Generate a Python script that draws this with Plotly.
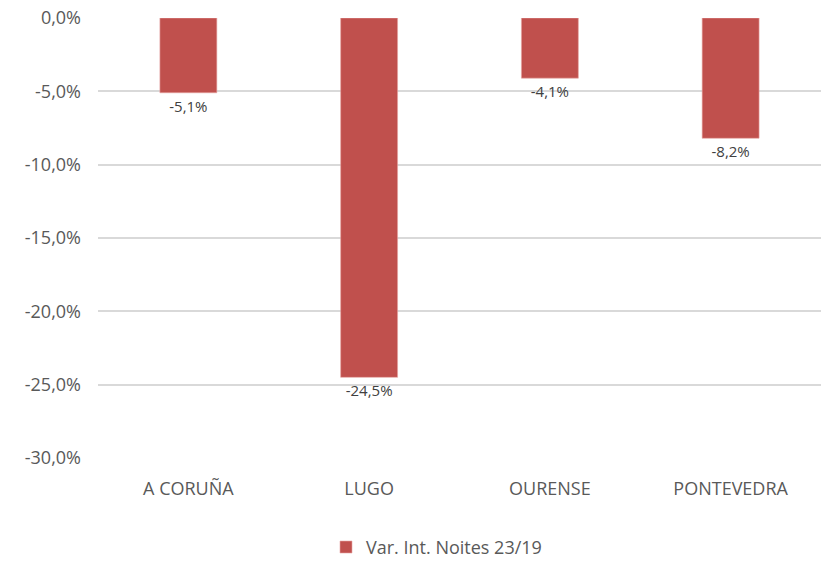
import plotly.graph_objects as go

provincias = ["A CORUÑA", "LUGO", "OURENSE", "PONTEVEDRA"]
variacion = [-5.1, -24.5, -4.1, -8.2]
serie = "Var. Int. Noites 23/19"
eixo_vals = [0, -5, -10, -15, -20, -25, -30]
eixo_text = ["0,0%", "-5,0%", "-10,0%", "-15,0%", "-20,0%", "-25,0%", "-30,0%"]

etiquetas = [f"{v:.1f}%".replace(".", ",") for v in variacion]

texto = "#595959"
fonte = "Open Sans"

fig = go.Figure(
    go.Bar(
        x=provincias,
        y=variacion,
        name=serie,
        marker=dict(color="#C0504D", line=dict(color="#E8A6A4", width=0.6)),
        width=0.315,
        text=etiquetas,
        textposition="outside",
        textfont=dict(family=fonte, size=15, color="#404040"),
        cliponaxis=False,
        showlegend=True,
    )
)

fig.update_layout(
    width=825,
    height=561,
    margin=dict(l=98, r=4, t=18, b=103, autoexpand=False),
    paper_bgcolor="white",
    plot_bgcolor="white",
    bargap=0.5,
    font=dict(family=fonte, color=texto),
    showlegend=True,
    legend=dict(
        orientation="h",
        x=(326 - 98) / 723,
        xanchor="left",
        y=-0.203,
        yanchor="middle",
        font=dict(family=fonte, size=18, color=texto),
        itemwidth=30,
    ),
    xaxis=dict(
        showgrid=False,
        showline=False,
        zeroline=False,
        tickfont=dict(family=fonte, size=18, color=texto),
        ticklabelstandoff=18,
    ),
    yaxis=dict(
        range=[-30, 0],
        tickvals=eixo_vals,
        ticktext=eixo_text,
        showgrid=True,
        gridcolor="#D9D9D9",
        gridwidth=1.5,
        zeroline=False,
        showline=False,
        tickfont=dict(family=fonte, size=18, color=texto),
        ticklabelstandoff=16,
    ),
)

fig.write_html("out.html")
